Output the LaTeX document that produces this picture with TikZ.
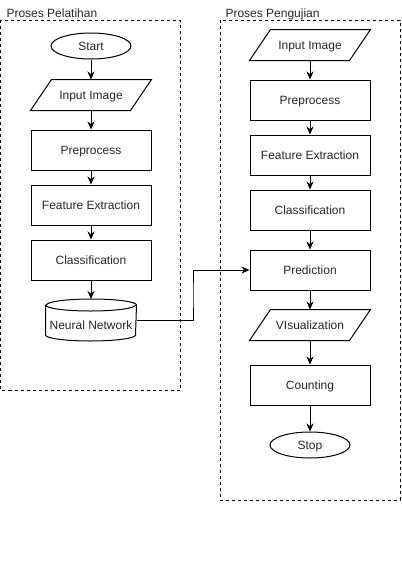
\documentclass[tikz,border=0pt]{standalone}
\usepackage{fontspec}
\setmainfont{Liberation Sans}
\usetikzlibrary{arrows.meta,shapes.geometric,calc,positioning}

\begin{document}
\begin{tikzpicture}[x=1pt,y=1pt,>={Stealth[length=8pt,width=7pt]},line width=1pt,
    font=\fontsize{12}{14}\selectfont,
    txt/.style = {text=black!85, text height=8.6pt, text depth=0pt},
    proc/.style = {draw, rectangle, minimum width=120, minimum height=40, inner sep=0pt, txt},
    inout/.style = {rectangle, minimum width=120, minimum height=30, inner sep=0pt, txt},
    term/.style = {draw, ellipse, minimum width=80, minimum height=26, inner sep=0pt, txt},
    box/.style = {draw, dash pattern=on 3pt off 3pt, line width=0.8pt}]
    \useasboundingbox (0,0) rectangle (402,-571);

    % Rahmen der beiden Prozesse + Ueberschriften
    \draw[box] (0.5,-20) rectangle (180,-390);
    \draw[box] (220,-20) rectangle (400,-500);
    \node[anchor=base west, inner sep=0pt, text=black!85] (T1) at (6,-17) {Proses Pelatihan};
    \node[anchor=base west, inner sep=0pt, text=black!85] (T2) at (225,-17) {Proses Pengujian};

    % Linke Spalte (Training)
    \node (start) at (91,-46) [term] {Start};
    \node (in1) at (91,-95) [inout] {Input Image};
    \node (pre1) at (91,-150) [proc] {Preprocess};
    \node (fe1) at (91,-205) [proc] {Feature Extraction};
    \node (cls1) at (91,-260) [proc] {Classification};

    % Zylinder fuer das Netz
    \node (nn) at (91,-320) [minimum width=90, minimum height=41, inner sep=0pt] {};
    \draw[fill=white] ([yshift=-6]nn.north west) -- ([yshift=6]nn.south west)
        arc[start angle=180, end angle=360, x radius=45, y radius=6]
        -- ([yshift=-6]nn.north east)
        arc[start angle=0, end angle=180, x radius=45, y radius=6] -- cycle;
    \draw ([yshift=-6]nn.north west) arc[start angle=180, end angle=360, x radius=45, y radius=6];
    \node[txt, inner sep=0pt] (nnt) at ($(nn)+(0,-5)$) {Neural Network};

    \draw[->] (start) -- (in1);
    \draw[->] (in1) -- (pre1);
    \draw[->] (pre1) -- (fe1);
    \draw[->] (fe1) -- (cls1);
    \draw[->] (cls1) -- (nn.north);

    % Rechte Spalte (Test)
    \node (in2) at (310,-45) [inout] {Input Image};
    \node (pre2) at (310,-100) [proc] {Preprocess};
    \node (fe2) at (310,-155) [proc] {Feature Extraction};
    \node (cls2) at (310,-210) [proc] {Classification};
    \node (pred) at (310,-270) [proc] {Prediction};
    \node (vis) at (310,-325) [inout] {VIsualization};
    \node (cnt) at (310,-385) [proc] {Counting};
    \node (stop) at (310,-445) [term] {Stop};

    % Parallelogramme fuer Ein-/Ausgabe
    \foreach \p in {in1,in2,vis}
        \draw (\p.south west) -- ++(100,0) -- (\p.north east) -- ++(-100,0) -- cycle;

    \draw[->] (in2) -- (pre2);
    \draw[->] (pre2) -- (fe2);
    \draw[->] (fe2) -- (cls2);
    \draw[->] (cls2) -- (pred);
    \draw[->] (pred) -- (vis);
    \draw[->] (vis) -- (cnt);
    \draw[->] (cnt) -- (stop);

    % Verbindung Netz -> Prediction
    \draw[->] (nn.east) -| ($(nn.east)!.5!(pred.west)$) |- (pred.west);
\end{tikzpicture}
\end{document}
